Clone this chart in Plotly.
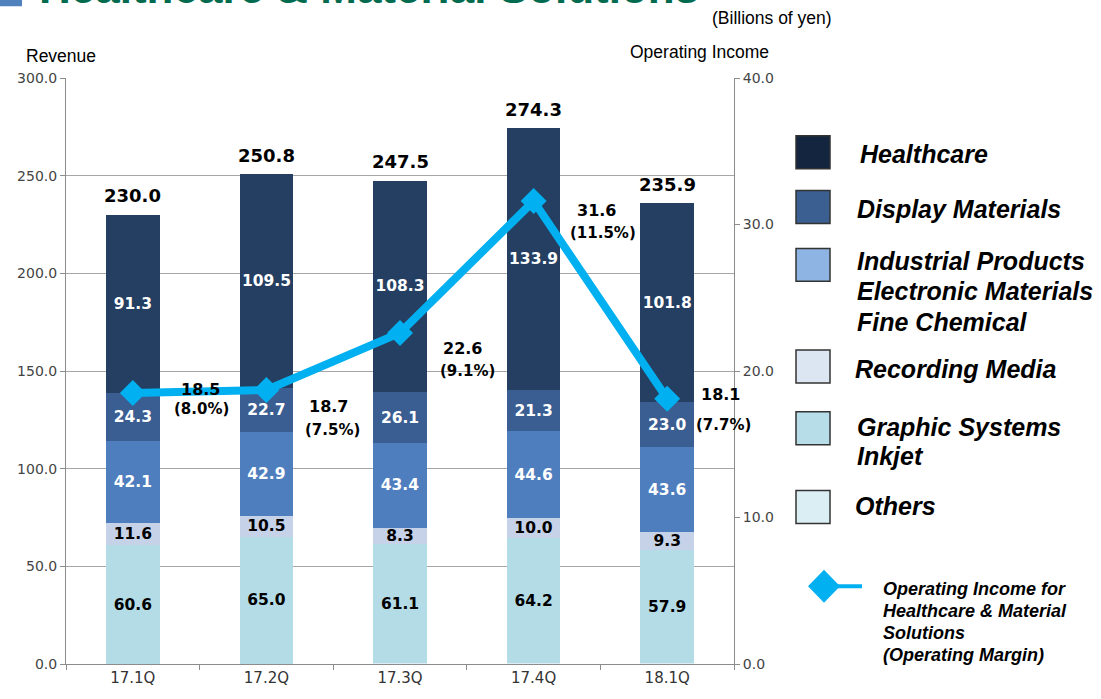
import plotly.graph_objects as go

# ---------------- data ----------------
categories = ['17.1Q', '17.2Q', '17.3Q', '17.4Q', '18.1Q']
others = [0.1, 0.2, 0.3, 0.3, 0.3]
graphic_systems = [60.6, 65.0, 61.1, 64.2, 57.9]
recording_media = [11.6, 10.5, 8.3, 10.0, 9.3]
industrial_products = [42.1, 42.9, 43.4, 44.6, 43.6]
display_materials = [24.3, 22.7, 26.1, 21.3, 23.0]
healthcare = [91.3, 109.5, 108.3, 133.9, 101.8]
revenue_totals = [230.0, 250.8, 247.5, 274.3, 235.9]
operating_income = [18.5, 18.7, 22.6, 31.6, 18.1]
operating_margin = [8.0, 7.5, 9.1, 11.5, 7.7]

left_ticks = [0, 50, 100, 150, 200, 250, 300]
right_ticks = [0, 10, 20, 30, 40]

# ---------------- layout helpers (pixel -> paper) ----------------
W, H = 1101, 699
L, R, T, B = 66, 734, 78, 666


def px(x):
    return (x - L) / (R - L)


def py(y):
    return (B - y) / (B - T)


NUM_FONT = 'DejaVu Sans'
TXT_FONT = 'Liberation Sans, Arial, sans-serif'
SEG_SIZE = 15.5

fig = go.Figure()

series = [
    ('Others', others, '#DAEEF3', None),
    ('Graphic Systems', graphic_systems, '#B4DCE7', '#000000'),
    ('Recording Media', recording_media, '#C6D2E8', '#000000'),
    ('Industrial Products', industrial_products, '#4F7EBE', '#FFFFFF'),
    ('Display Materials', display_materials, '#3A5E92', '#FFFFFF'),
    ('Healthcare', healthcare, '#243F62', '#FFFFFF'),
]

for name, vals, color, tcolor in series:
    fig.add_trace(go.Bar(
        x=categories, y=vals, name=name,
        marker=dict(color=color, line=dict(width=0)),
        text=[f'{v:.1f}' for v in vals] if tcolor else None,
        textposition='inside' if tcolor else 'none',
        insidetextanchor='middle',
        textangle=0,
        insidetextfont=dict(family=NUM_FONT, size=SEG_SIZE, color=tcolor or '#000', weight='bold'),
        width=0.4,
        showlegend=False,
        hoverinfo='skip',
    ))

fig.add_trace(go.Scatter(
    x=categories, y=operating_income, yaxis='y2', mode='lines+markers',
    line=dict(color='#00B0F0', width=8),
    marker=dict(symbol='diamond', size=20, color='#00B0F0'),
    showlegend=False, hoverinfo='skip',
))

annotations = []

# totals above bars
for c, t in zip(categories, revenue_totals):
    annotations.append(dict(
        x=c, y=t, xref='x', yref='y', text=f'{t:.1f}', showarrow=False,
        yanchor='middle', yshift=19,
        font=dict(family=NUM_FONT, size=18, color='#000', weight='bold'),
    ))

# operating income labels (pixel offsets: style only)
val_off = [(68, -3), (62, 16), (62, 16), (63, 9), (53, -4)]
mar_off = [(69, 16), (66, 40), (67, 38), (69, 32), (56, 26)]
for i, (c, v, m) in enumerate(zip(categories, operating_income, operating_margin)):
    annotations.append(dict(
        x=c, y=v, xref='x', yref='y2', text=f'{v:.1f}', showarrow=False,
        xshift=val_off[i][0], yshift=-val_off[i][1],
        font=dict(family=NUM_FONT, size=16, color='#000', weight='bold'),
    ))
    annotations.append(dict(
        x=c, y=v, xref='x', yref='y2', text=f'({m:.1f}%)', showarrow=False,
        xshift=mar_off[i][0], yshift=-mar_off[i][1],
        font=dict(family=NUM_FONT, size=15, color='#000', weight='bold'),
    ))

# static texts
annotations += [
    dict(x=px(37), y=py(14), xref='paper', yref='paper', xanchor='left', yanchor='bottom',
         text='Healthcare & Material Solutions', showarrow=False,
         font=dict(family=TXT_FONT, size=44, color='#006B4F', weight='bold')),
    dict(x=px(710), y=py(18), xref='paper', yref='paper', xanchor='left', yanchor='middle',
         text='(Billions of yen)', showarrow=False,
         font=dict(family=TXT_FONT, size=17.5, color='#000')),
    dict(x=px(24), y=py(56), xref='paper', yref='paper', xanchor='left', yanchor='middle',
         text='Revenue', showarrow=False,
         font=dict(family=TXT_FONT, size=17.5, color='#000')),
    dict(x=px(628), y=py(52), xref='paper', yref='paper', xanchor='left', yanchor='middle',
         text='Operating Income', showarrow=False,
         font=dict(family=TXT_FONT, size=17.5, color='#000')),
]

shapes = [
    dict(type='rect', xref='paper', yref='paper', x0=px(0), x1=px(22), y0=py(6), y1=py(-30),
         fillcolor='#4F81BD', line=dict(width=0), layer='above'),
]

# custom legend
legend_boxes = [
    (136, 169, '#13253F'),
    (191, 224, '#3B5F90'),
    (249, 282, '#8EB4E3'),
    (351, 384, '#DCE6F2'),
    (413, 446, '#B7DEE8'),
    (492, 525, '#DAEEF3'),
]
for y0, y1, col in legend_boxes:
    shapes.append(dict(type='rect', xref='paper', yref='paper',
                       x0=px(796), x1=px(830), y0=py(y1), y1=py(y0),
                       fillcolor=col, line=dict(color='#333333', width=1.5), layer='above'))

legend_lines = [
    (858, 154, 'Healthcare'),
    (855, 209, 'Display Materials'),
    (855, 262, 'Industrial Products'),
    (855, 292, 'Electronic Materials'),
    (855, 323, 'Fine Chemical'),
    (853, 370, 'Recording Media'),
    (855, 428, 'Graphic Systems'),
    (855, 457, 'Inkjet'),
    (853, 507, 'Others'),
]
for x, y, t in legend_lines:
    annotations.append(dict(x=px(x), y=py(y), xref='paper', yref='paper', xanchor='left',
                            yanchor='middle', text=t, showarrow=False,
                            font=dict(family=TXT_FONT, size=25, color='#000', weight='bold',
                                      style='italic')))

oi_lines = [
    (881, 591, 'Operating Income for'),
    (881, 613, 'Healthcare & Material'),
    (881, 635, 'Solutions'),
    (881, 657, '(Operating Margin)'),
]
for x, y, t in oi_lines:
    annotations.append(dict(x=px(x), y=py(y), xref='paper', yref='paper', xanchor='left',
                            yanchor='middle', text=t, showarrow=False,
                            font=dict(family=TXT_FONT, size=18, color='#000', weight='bold',
                                      style='italic')))

# legend diamond + line
cx, cy, hw, hh = 824, 588, 16, 16.5
shapes.append(dict(type='line', xref='paper', yref='paper', x0=px(836), x1=px(862),
                   y0=py(cy), y1=py(cy), line=dict(color='#00B0F0', width=4), layer='above'))
shapes.append(dict(type='path', xref='paper', yref='paper',
                   path=f'M {px(cx-hw)},{py(cy)} L {px(cx)},{py(cy-hh)} L {px(cx+hw)},{py(cy)} '
                        f'L {px(cx)},{py(cy+hh)} Z',
                   fillcolor='#00B0F0', line=dict(width=0), layer='above'))

fig.update_layout(
    width=W, height=H,
    margin=dict(l=L, r=W - R, t=T, b=H - B),
    paper_bgcolor='white', plot_bgcolor='white',
    barmode='stack', bargap=0.6,
    uniformtext=dict(minsize=SEG_SIZE, mode='show'),
    showlegend=False,
    annotations=annotations,
    shapes=shapes,
    xaxis=dict(
        type='category', range=[-0.5, 4.5], showline=True, linecolor='#8C8C8C', linewidth=1,
        ticks='outside', tickson='boundaries', ticklen=5, tickcolor='#8C8C8C',
        tickfont=dict(family=NUM_FONT, size=15, color='#333333'), showgrid=False,
        zeroline=False,
    ),
    yaxis=dict(
        range=[0, 300], tickvals=left_ticks, tickformat='.1f', showline=True,
        linecolor='#8C8C8C', linewidth=1, ticks='outside', ticklen=5, tickcolor='#8C8C8C',
        tickfont=dict(family=NUM_FONT, size=14, color='#444444'),
        showgrid=True, gridcolor='#A6A6A6', gridwidth=1, zeroline=False,
    ),
    yaxis2=dict(
        range=[0, 40], tickvals=right_ticks, tickformat='.1f', overlaying='y', side='right',
        showline=True, linecolor='#8C8C8C', linewidth=1, ticks='outside', ticklen=5,
        tickcolor='#8C8C8C', tickfont=dict(family=NUM_FONT, size=14, color='#444444'),
        showgrid=False, zeroline=False,
    ),
)

fig.write_html('out.html', config={'displayModeBar': False},
               post_script="document.body.style.margin='0';document.body.style.overflow='hidden';")
